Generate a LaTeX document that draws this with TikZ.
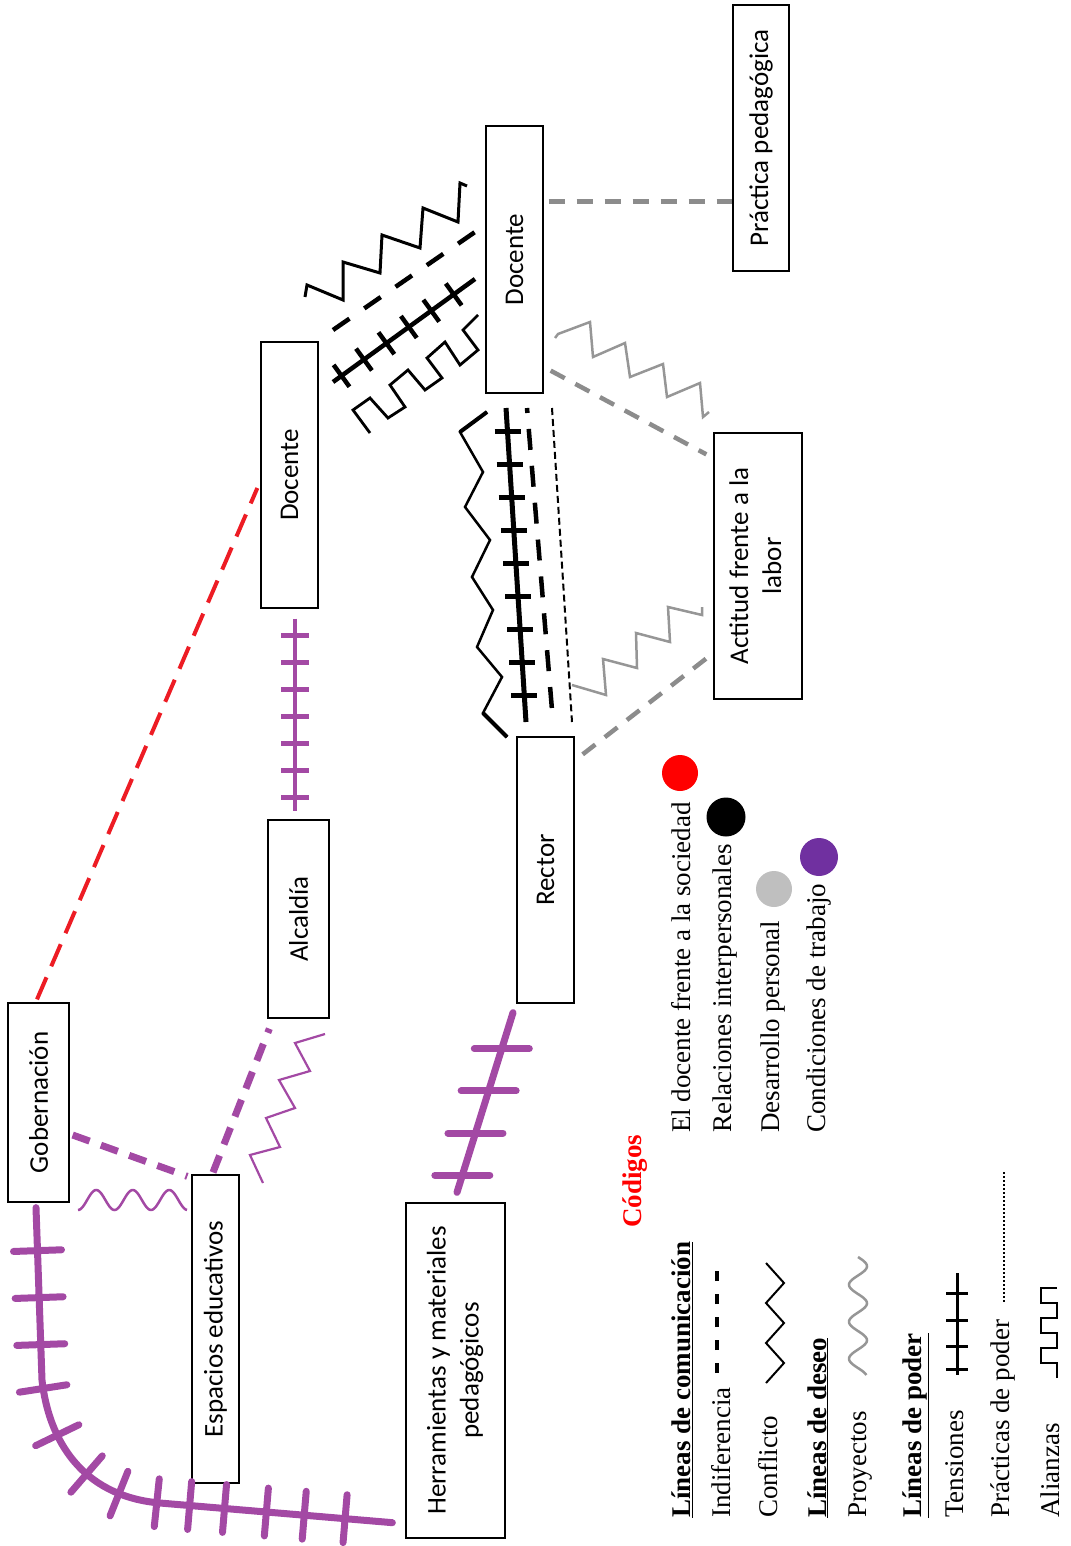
\documentclass[tikz,border=0pt]{standalone}
\usepackage{fontspec}
\setmainfont{Liberation Serif}
\newfontfamily\boxfont{Carlito}
\usetikzlibrary{calc,decorations.pathmorphing,decorations.markings}
\definecolor{pur}{RGB}{163,73,164}
\definecolor{purdark}{RGB}{112,48,160}
\definecolor{gr}{RGB}{140,140,140}
\definecolor{grl}{RGB}{150,150,150}
\definecolor{rd}{RGB}{237,28,36}
\definecolor{circgray}{RGB}{191,191,191}
\tikzset{
  mybox/.style={draw, line width=1.3pt, inner sep=0pt, font=\boxfont\fontsize{27}{33}\selectfont},
  legtext/.style={rotate=90, anchor=base west, inner sep=0pt, font=\fontsize{27}{33}\selectfont},
  perpticks/.style n args={3}{postaction={decorate,decoration={markings,
      mark=between positions #1 and 1 step #2 with {\draw (0,-#3)--(0,#3);}}}},
  hticks/.style n args={3}{postaction={decorate,decoration={markings,
      mark=between positions #1 and 1 step #2 with {\pgftransformresetnontranslations\draw (-#3,0)--(#3,0);}}}},
  graydash/.style={gr, line width=4.5pt, dash pattern=on 16pt off 12pt},
  reddash/.style={rd, line width=4pt, dash pattern=on 24pt off 12pt},
  purdash/.style={pur, line width=7pt, dash pattern=on 18pt off 12pt},
  purhash/.style={pur, line width=6.5pt, line cap=round},
  blk/.style={black, line width=2.5pt, line join=miter},
}
\newcommand\purtick{\draw (0,-24)--(0,24);}
\begin{document}
\begin{tikzpicture}[x=1pt,y=-1pt]
\useasboundingbox (0,0) rectangle (1070,1546);

% ---------- boxes ----------
\node[mybox, minimum width=56pt, minimum height=266pt] (prac) at (761,138) {\rotatebox{90}{Práctica pedagógica}};
\node[mybox, minimum width=57pt, minimum height=267pt] (doc1) at (514.5,259.5) {\rotatebox{90}{Docente}};
\node[mybox, minimum width=57pt, minimum height=266pt] (doc2) at (289.5,475) {\rotatebox{90}{Docente}};
\node[mybox, minimum width=61pt, minimum height=198pt] (alc) at (298.5,919) {\rotatebox{90}{Alcaldía}};
\node[mybox, minimum width=57pt, minimum height=266pt] (rect) at (545.5,870) {\rotatebox{90}{Rector}};
\node[mybox, minimum width=88pt, minimum height=266pt] (act) at (758,566) {\rotatebox{90}{\begin{tabular}{@{}c@{}}Actitud frente a la\\labor\end{tabular}}};
\node[mybox, minimum width=61pt, minimum height=199pt] (gob) at (38.5,1102.5) {\rotatebox{90}{Gobernación}};
\node[mybox, minimum width=47pt, minimum height=308pt] (esp) at (215.5,1329) {\rotatebox{90}{Espacios educativos}};
\node[mybox, minimum width=99pt, minimum height=335pt] (herr) at (455.5,1370.5) {\rotatebox{90}{\begin{tabular}{@{}c@{}}Herramientas y materiales\\pedagógicos\end{tabular}}};

% ---------- gray connectors ----------
\coordinate (p1) at ($(doc1.east)+(5,-58)$);
\draw[graydash] (p1) -- (p1 -| prac.west);
\draw[graydash] ($(doc1.south east)+(7,-23)$) -- ($(act.north west)+(-7,22)$);
\draw[graydash] ($(rect.north east)+(8,18)$) -- ($(act.south west)+(-6,-42)$);
\draw[grl, line width=2.5pt] (555,338) -- (558,334) -- (590,322) -- (593,357) -- (625,343) -- (630,377) -- (663,364) -- (667,397) -- (700,383) -- (703,417) -- (709,412);
\draw[grl, line width=2.5pt] (572,685) -- (606,695) -- (603,659) -- (637,668) -- (636,633) -- (670,642) -- (668,607) -- (702,615) -- (702,607);

% ---------- black bundle between the two Docente boxes ----------
\draw[blk, line width=3pt] (305,297) -- (307,285) -- (343,300) -- (343,262) -- (380,273) -- (382,235) -- (420,248) -- (423,208) -- (458,222) -- (460,183) -- (467,186);
\draw[black, line width=4.5pt, dash pattern=on 20pt off 18pt] (333,330) -- (475,232);
\draw[black, line width=4.5pt, perpticks={0.06}{0.158}{13.5}] (333,382) -- (475,279);
\draw[black, line width=2.8pt, line join=miter] (370,433) -- (353,410) -- (370,398) -- (388,418) -- (405,407) -- (390,385) -- (408,370) -- (425,390) -- (442,378) -- (427,358) -- (445,342) -- (460,365) -- (478,350) -- (463,330) -- (478,315);

% ---------- black bundle Docente - Rector ----------
\draw[blk] (487,412) -- (460,432) -- (483,472) -- (465,507) -- (490,540) -- (472,577) -- (493,610) -- (477,647) -- (502,677) -- (483,713) -- (507,737);
\draw[black, line width=4pt] (487,412) -- (460,432);
\draw[black, line width=4pt] (483,713) -- (507,737);
\draw[black, line width=5pt, hticks={0.076}{0.105}{13}] (506,408) -- (526,722);
\draw[black, line width=4.5pt, dash pattern=on 21pt off 16pt, dash phase=16pt] (527,408) -- (553,722);
\draw[black, line width=2pt, dash pattern=on 7pt off 4pt] (552,408) -- (572,722);

% ---------- red ----------
\draw[reddash] ($(gob.north)+(-1.5,-3)$) -- ($(doc2.west)+(-3,13)$);

% ---------- purple ----------
\draw[purhash, line width=4.5pt, line cap=butt, hticks={0.088}{0.14}{14}] ($(doc2.south)+(5.5,10)$) -- ($(alc.north)+(-3.5,-8)$);
\draw[purdash] ($(gob.east)+(3,32.5)$) -- ($(esp.north west)+(-4,2)$);
\draw[purdash] ($(esp.north)+(-2.5,-2)$) -- ($(alc.south west)+(2,10)$);
\draw[pur, line width=2.2pt] (263,1183) -- (250,1155) -- (280,1147) -- (266,1118) -- (295,1108) -- (279,1080) -- (310,1071) -- (295,1043) -- (325,1034);
\draw[pur, line width=2.5pt] plot[domain=0:109, samples=90] ({78+\x},{1200+10*cos(\x/36.5*360)});
\draw[purhash, line width=7pt, hticks={0.2}{0.235}{27.5}] ($(rect.south)+(-32.5,9)$) -- ($(herr.north)+(1.5,-10)$);
\draw[purhash, line width=7pt, postaction={decorate, decoration={markings,
   mark=at position 43pt with {\purtick}, mark=at position 90pt with {\purtick},
   mark=at position 137pt with {\purtick}, mark=at position 181pt with {\purtick},
   mark=at position 230pt with {\purtick}, mark=at position 279pt with {\purtick},
   mark=at position 317pt with {\purtick}, mark=at position 356pt with {\purtick},
   mark=at position 389pt with {\purtick}, mark=at position 424pt with {\purtick},
   mark=at position 466pt with {\purtick}, mark=at position 504pt with {\purtick},
   mark=at position 545pt with {\purtick}}}]
  ($(gob.south)+(-2.5,5)$) -- (42,1380) .. controls (50,1450) and (90,1497) .. (160,1503) -- ($(herr.south west)+(-13,-16)$);

% ---------- legend ----------
\node[legtext, text=red, font=\bfseries\fontsize{27}{33}\selectfont] (cod) at (641,1228) {Códigos};
\node[legtext] (l1) at (690,1133) {El docente frente a la sociedad};
\node[legtext] (l2) at (731,1133) {Relaciones interpersonales};
\node[legtext] (l3) at (779,1133) {Desarrollo personal};
\node[legtext] (l4) at (825,1133) {Condiciones de trabajo};
\node[circle, fill=red, minimum size=36pt, inner sep=0pt] (c1) at (680,773) {};
\node[circle, fill=black, minimum size=39pt, inner sep=0pt] (c2) at (726,817) {};
\node[circle, fill=circgray, minimum size=36pt, inner sep=0pt] (c3) at (774,889) {};
\node[circle, fill=purdark, minimum size=38pt, inner sep=0pt] (c4) at (819,857) {};

\node[legtext] (h1) at (690,1518) {\textbf{\underline{Líneas de comunicación}}};
\node[legtext] (t1) at (730,1518) {Indiferencia};
\node[legtext] (t2) at (777,1518) {Conflicto};
\node[legtext] (h2) at (826,1518) {\textbf{\underline{Líneas de deseo}}};
\node[legtext] (t3) at (866,1518) {Proyectos};
\node[legtext] (h3) at (921,1518) {\textbf{\underline{Líneas de poder}}};
\node[legtext] (t4) at (963,1518) {Tensiones};
\node[legtext] (t5) at (1009,1518) {Prácticas de poder};
\node[legtext] (t6) at (1059,1518) {Alianzas};

\draw[black, line width=4pt, dash pattern=on 10pt off 13pt] (717,1373) -- (717,1262);
\draw[black, line width=2pt] (766,1263) -- (784,1283) -- (766,1303) -- (784,1323) -- (766,1343) -- (784,1363) -- (766,1383);
\draw[grl, line width=2.5pt] plot[domain=0:118, samples=90] ({858+9*sin(\x/37*360)},{1257+\x});
\draw[black, line width=3pt] (957,1273) -- (957,1375);
\foreach \ty in {1293,1320,1346,1369} \draw[black, line width=3pt] (946,\ty) -- (968,\ty);
\draw[black, line width=2.5pt, dash pattern=on 2pt off 2pt] (1004,1172) -- (1004,1302);
\draw[black, line width=2.5pt] (1057,1378) -- (1057,1363) -- (1041,1363) -- (1041,1348) -- (1057,1348) -- (1057,1333) -- (1041,1333) -- (1041,1318) -- (1057,1318) -- (1057,1303) -- (1041,1303) -- (1041,1288) -- (1057,1288);
\end{tikzpicture}
\end{document}
